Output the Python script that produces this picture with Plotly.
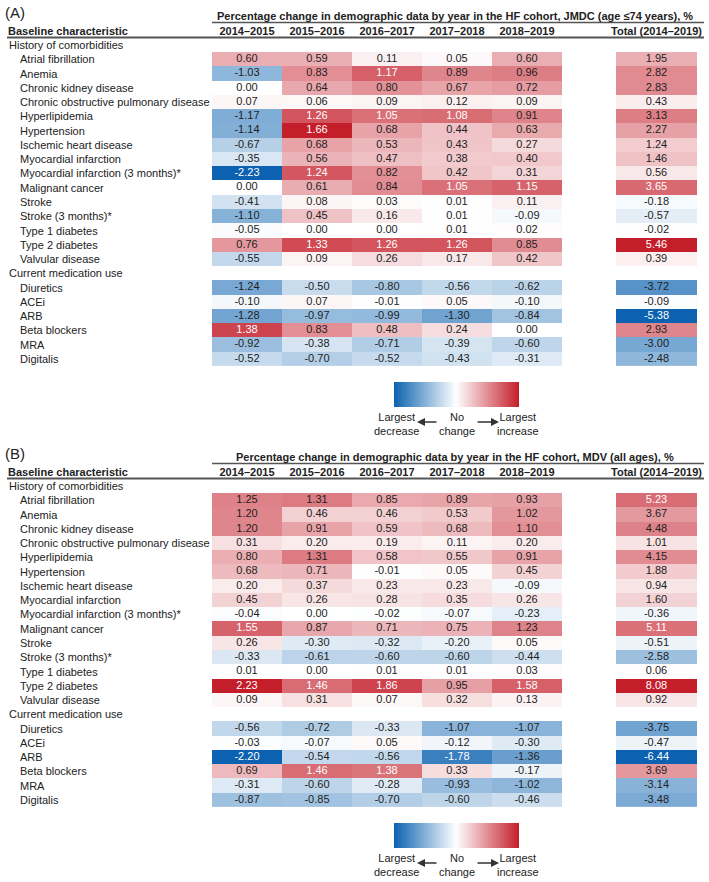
import plotly.graph_objects as go

# ---------------- data ----------------
years = ["2014–2015", "2015–2016", "2016–2017", "2017–2018", "2018–2019"]
total_label = "Total (2014–2019)"
section_comorb = "History of comorbidities"
section_med = "Current medication use"
comorb_rows = ["Atrial fibrillation", "Anemia", "Chronic kidney disease",
               "Chronic obstructive pulmonary disease", "Hyperlipidemia", "Hypertension",
               "Ischemic heart disease", "Myocardial infarction",
               "Myocardial infarction (3 months)*", "Malignant cancer", "Stroke",
               "Stroke (3 months)*", "Type 1 diabetes", "Type 2 diabetes", "Valvular disease"]
med_rows = ["Diuretics", "ACEi", "ARB", "Beta blockers", "MRA", "Digitalis"]

a_title = "Percentage change in demographic data by year in the HF cohort, JMDC (age ≤74 years), %"
b_title = "Percentage change in demographic data by year in the HF cohort, MDV (all ages), %"

a_comorb = [
    [0.60, 0.59, 0.11, 0.05, 0.60],
    [-1.03, 0.83, 1.17, 0.89, 0.96],
    [0.00, 0.64, 0.80, 0.67, 0.72],
    [0.07, 0.06, 0.09, 0.12, 0.09],
    [-1.17, 1.26, 1.05, 1.08, 0.91],
    [-1.14, 1.66, 0.68, 0.44, 0.63],
    [-0.67, 0.68, 0.53, 0.43, 0.27],
    [-0.35, 0.56, 0.47, 0.38, 0.40],
    [-2.23, 1.24, 0.82, 0.42, 0.31],
    [0.00, 0.61, 0.84, 1.05, 1.15],
    [-0.41, 0.08, 0.03, 0.01, 0.11],
    [-1.10, 0.45, 0.16, 0.01, -0.09],
    [-0.05, 0.00, 0.00, 0.01, 0.02],
    [0.76, 1.33, 1.26, 1.26, 0.85],
    [-0.55, 0.09, 0.26, 0.17, 0.42],
]
a_comorb_total = [1.95, 2.82, 2.83, 0.43, 3.13, 2.27, 1.24, 1.46, 0.56, 3.65,
                  -0.18, -0.57, -0.02, 5.46, 0.39]
a_med = [
    [-1.24, -0.50, -0.80, -0.56, -0.62],
    [-0.10, 0.07, -0.01, 0.05, -0.10],
    [-1.28, -0.97, -0.99, -1.30, -0.84],
    [1.38, 0.83, 0.48, 0.24, 0.00],
    [-0.92, -0.38, -0.71, -0.39, -0.60],
    [-0.52, -0.70, -0.52, -0.43, -0.31],
]
a_med_total = [-3.72, -0.09, -5.38, 2.93, -3.00, -2.48]

b_comorb = [
    [1.25, 1.31, 0.85, 0.89, 0.93],
    [1.20, 0.46, 0.46, 0.53, 1.02],
    [1.20, 0.91, 0.59, 0.68, 1.10],
    [0.31, 0.20, 0.19, 0.11, 0.20],
    [0.80, 1.31, 0.58, 0.55, 0.91],
    [0.68, 0.71, -0.01, 0.05, 0.45],
    [0.20, 0.37, 0.23, 0.23, -0.09],
    [0.45, 0.26, 0.28, 0.35, 0.26],
    [-0.04, 0.00, -0.02, -0.07, -0.23],
    [1.55, 0.87, 0.71, 0.75, 1.23],
    [0.26, -0.30, -0.32, -0.20, 0.05],
    [-0.33, -0.61, -0.60, -0.60, -0.44],
    [0.01, 0.00, 0.01, 0.01, 0.03],
    [2.23, 1.46, 1.86, 0.95, 1.58],
    [0.09, 0.31, 0.07, 0.32, 0.13],
]
b_comorb_total = [5.23, 3.67, 4.48, 1.01, 4.15, 1.88, 0.94, 1.60, -0.36, 5.11,
                  -0.51, -2.58, 0.06, 8.08, 0.92]
b_med = [
    [-0.56, -0.72, -0.33, -1.07, -1.07],
    [-0.03, -0.07, 0.05, -0.12, -0.30],
    [-2.20, -0.54, -0.56, -1.78, -1.36],
    [0.69, 1.46, 1.38, 0.33, -0.17],
    [-0.31, -0.60, -0.28, -0.93, -1.02],
    [-0.87, -0.85, -0.70, -0.60, -0.46],
]
b_med_total = [-3.75, -0.47, -6.44, 3.69, -3.14, -3.48]

# ---------------- style ----------------
W, H = 709, 882
FONT = "Arial, 'Liberation Sans', sans-serif"
TXT = "#222222"
BLUE = "rgb(12,98,176)"
RED = "rgb(196,30,42)"
FS = 11


def fx(p):
    return p / W


def fy(p):
    return 1 - p / H


row_cats = [section_comorb] + comorb_rows + [section_med] + med_rows
ROW0, PITCH = 45.0, (359.0 - 45.0) / 22.0

fig = go.Figure()
annotations = []
shapes = []


def scale_for(vals):
    lo, hi = min(vals), max(vals)
    p0 = -lo / (hi - lo)
    return lo, hi, [[0, BLUE], [p0, "white"], [1, RED]]


def text_colors(vals, lo, hi):
    out = []
    for v in vals:
        if v > 0 and v / hi >= 0.6:
            out.append("white")
        elif v < 0 and v / lo >= 0.7:
            out.append("white")
        else:
            out.append(TXT)
    return out


def panel(idx, off, label, title, comorb, comorb_tot, med, med_tot, bar_on_total):
    xa = "x" if idx == 0 else "x3"
    xb = "x2" if idx == 0 else "x4"
    ya = "y" if idx == 0 else "y2"
    xa_l = "xaxis" if idx == 0 else "xaxis3"
    xb_l = "xaxis2" if idx == 0 else "xaxis4"
    ya_l = "yaxis" if idx == 0 else "yaxis2"

    z_years = [[None] * 5] + comorb + [[None] * 5] + med
    z_tot = [[None]] + [[v] for v in comorb_tot] + [[None]] + [[v] for v in med_tot]
    flat_y = [v for r in comorb + med for v in r]
    flat_t = list(comorb_tot) + list(med_tot)
    lo_y, hi_y, cs_y = scale_for(flat_y)
    lo_t, hi_t, cs_t = scale_for(flat_t)

    cb = dict(orientation="h", lenmode="pixels", len=125, thickness=25,
              thicknessmode="pixels", x=fx(456.5), xanchor="center",
              y=fy(382 + off), yanchor="top", xpad=0, ypad=0, outlinewidth=0,
              showticklabels=False, ticks="")

    fig.add_trace(go.Heatmap(z=z_years, x=years, y=row_cats, xaxis=xa, yaxis=ya,
                             zmin=lo_y, zmax=hi_y, colorscale=cs_y,
                             showscale=not bar_on_total, colorbar=cb,
                             hoverinfo="skip"))
    fig.add_trace(go.Heatmap(z=z_tot, x=[total_label], y=row_cats, xaxis=xb, yaxis=ya,
                             zmin=lo_t, zmax=hi_t, colorscale=cs_t,
                             showscale=bar_on_total, colorbar=cb,
                             hoverinfo="skip"))

    # value labels
    rows_all = comorb_rows + med_rows
    data_all = comorb + med
    xs, ys, ts = [], [], []
    for r, vals in zip(rows_all, data_all):
        for yr, v in zip(years, vals):
            xs.append(yr); ys.append(r); ts.append(v)
    fig.add_trace(go.Scatter(x=xs, y=ys, xaxis=xa, yaxis=ya, mode="text",
                             text=[f"{v:.2f}" for v in ts],
                             textfont=dict(family=FONT, size=FS,
                                           color=text_colors(ts, lo_y, hi_y)),
                             hoverinfo="skip", showlegend=False, cliponaxis=False))
    fig.add_trace(go.Scatter(x=[total_label] * len(flat_t), y=rows_all, xaxis=xb, yaxis=ya,
                             mode="text", text=[f"{v:.2f}" for v in flat_t],
                             textfont=dict(family=FONT, size=FS,
                                           color=text_colors(flat_t, lo_t, hi_t)),
                             hoverinfo="skip", showlegend=False, cliponaxis=False))

    top = ROW0 - PITCH / 2 + off
    bot = ROW0 + 22 * PITCH + PITCH / 2 + off
    axis_common = dict(side="top", showgrid=False, zeroline=False, showline=False,
                       ticks="", tickfont=dict(family=FONT, size=FS, color=TXT, weight="bold"),
                       fixedrange=True, ticklabelstandoff=0)
    fig.update_layout(**{
        xa_l: dict(domain=[fx(212), fx(562)], anchor=ya, **axis_common),
        xb_l: dict(domain=[fx(616), fx(697)], anchor=ya, **axis_common),
        ya_l: dict(domain=[fy(bot), fy(top)], range=[22.5, -0.5], showticklabels=False,
                   showgrid=False, zeroline=False, ticks="", fixedrange=True),
    })

    # row labels
    for r in row_cats:
        indent = 7 if r in (section_comorb, section_med) else 18
        annotations.append(dict(text=r, x=fx(indent), xref="paper", xanchor="left",
                                y=r, yref=ya, yanchor="middle", showarrow=False,
                                font=dict(family=FONT, size=FS, color=TXT)))

    # headers
    annotations.append(dict(text=label, x=fx(3), y=fy(12 + off), xref="paper", yref="paper",
                            xanchor="left", yanchor="middle", showarrow=False,
                            font=dict(family=FONT, size=15, color=TXT)))
    annotations.append(dict(text=f"<b>{title}</b>", x=fx(455), y=fy(15.5 + off),
                            xref="paper", yref="paper", xanchor="center", yanchor="middle",
                            showarrow=False, font=dict(family=FONT, size=FS, color=TXT)))
    annotations.append(dict(text="<b>Baseline characteristic</b>", x=fx(6), y=fy(30.5 + off),
                            xref="paper", yref="paper", xanchor="left", yanchor="middle",
                            showarrow=False, font=dict(family=FONT, size=FS, color=TXT)))
    shapes.append(dict(type="line", xref="paper", yref="paper", x0=fx(212), x1=fx(704),
                       y0=fy(22.5 + off), y1=fy(22.5 + off),
                       line=dict(color="#555555", width=1.3)))
    shapes.append(dict(type="line", xref="paper", yref="paper", x0=fx(7), x1=fx(704),
                       y0=fy(37.5 + off), y1=fy(37.5 + off),
                       line=dict(color="#555555", width=1.8)))

    # legend text under colour bar
    for txt, cx in (("Largest<br>decrease", 396), ("No<br>change", 457),
                    ("Largest<br>increase", 518)):
        annotations.append(dict(text=txt, x=fx(cx), y=fy(423.5 + off), xref="paper",
                                yref="paper", xanchor="center", yanchor="middle",
                                showarrow=False, font=dict(family=FONT, size=FS, color=TXT)))
    for head, tail in ((417, 438), (499, 476)):
        annotations.append(dict(text="", x=fx(head), y=fy(422 + off), xref="paper",
                                yref="paper", ax=tail - head, ay=0, showarrow=True,
                                arrowhead=2, arrowsize=1, arrowwidth=1.6,
                                arrowcolor="#333333", standoff=0, startstandoff=0))


panel(0, 0, "(A)", a_title, a_comorb, a_comorb_total, a_med, a_med_total, True)
panel(1, 441, "(B)", b_title, b_comorb, b_comorb_total, b_med, b_med_total, False)

fig.update_layout(width=W, height=H, margin=dict(l=0, r=0, t=0, b=0, autoexpand=False),
                  paper_bgcolor="white", plot_bgcolor="white", showlegend=False,
                  annotations=annotations, shapes=shapes,
                  font=dict(family=FONT, size=FS, color=TXT))

fig.write_html("out.html", config={"displayModeBar": False},
               post_script="document.body.style.margin='0';document.body.style.overflow='hidden';")
